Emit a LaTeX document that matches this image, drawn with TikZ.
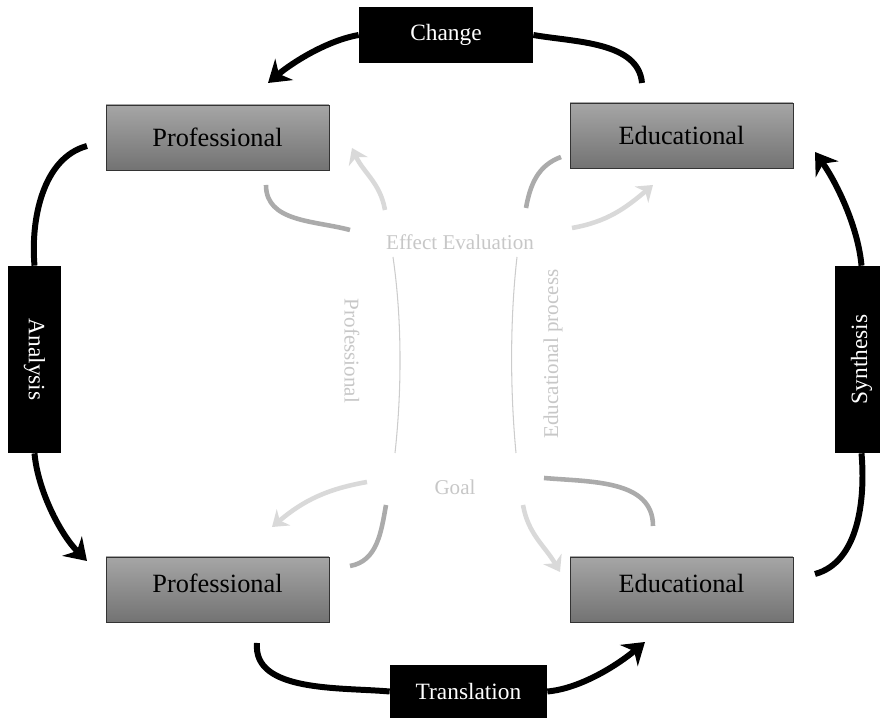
\documentclass[tikz,border=0pt]{standalone}
\usepackage{fontspec}
\setmainfont{Liberation Serif}
\usetikzlibrary{shapes.geometric, arrows.meta, positioning}

\begin{document}
\begin{tikzpicture}[x=0.02cm, y=0.02cm]
		\tikzstyle{Box} = [rectangle, minimum width=4.46cm, minimum height=1.3cm, text centered, draw=black!80, top color=black!35, bottom color=black!55, font=\fontsize{15}{18}\selectfont]
		\tikzstyle{Tag} = [rectangle, fill=black, text=white, inner sep=0pt, font=\fontsize{13.3}{16}\selectfont]
		\tikzstyle{Hint} = [text=black!22, inner sep=1pt, font=\fontsize{12}{14}\selectfont]
		\tikzstyle{arrow} = [line width=3.4pt, -{Stealth[length=0.42cm, width=0.55cm]}]
		\tikzstyle{band} = [line width=3.4pt]
		\tikzstyle{lightarrow} = [black!15, line width=2.6pt, -{Stealth[length=0.3cm, width=0.42cm]}]
		\tikzstyle{darkband} = [black!33, line width=2.6pt]
		\tikzstyle{guide} = [black!20, line width=0.6pt]
		
		\useasboundingbox (0,0) rectangle (880,719);
		
		% corner boxes
		\node (pro1) [Box] at (217.5,581.5) {Professional};
		\node (edu1) [Box] at (681.5,583.5) {Educational};
		\node (pro2) [Box] at (217.5,129.5) {\raisebox{0.12cm}[\height][\depth]{Professional}};
		\node (edu2) [Box] at (681.5,129.5) {\raisebox{0.12cm}[\height][\depth]{Educational}};
		
		% black tags on the outer cycle
		\node (change) [Tag, minimum width=3.48cm, minimum height=1.12cm] at (446,684) {Change};
		\node (transl) [Tag, minimum width=3.14cm, minimum height=1.06cm] at (468.5,27.5) {Translation};
		\node (anal) [Tag, rotate=-90, minimum width=3.74cm, minimum height=1.06cm] at (34.5,359.5) {Analysis};
		\node (synth) [Tag, rotate=90, minimum width=3.74cm, minimum height=1.06cm] at (861.5,359.5) {Synthesis};
		
		% grey texts in the middle
		\node (eff) [Hint] at (460,477) {Effect Evaluation};
		\node (goal) [Hint] at (455,232) {Goal};
		\node (prof) [Hint, rotate=-90] at (352,368) {Professional};
		\node (edup) [Hint, rotate=90] at (553,365) {Educational process};
		
		\coordinate (chgtail) at (642,636);
		\coordinate (chghead) at (268,636);
		\coordinate (trntail) at (257,76);
		\coordinate (trnhead) at (645,77);
		\coordinate (anltail) at (87,573);
		\coordinate (anlhead) at (87,158);
		\coordinate (syntail) at (815,145);
		\coordinate (synhead) at (815,567);
		
		\draw [band] (chgtail) to[out=95, in=-10, looseness=0.9] (change.east);
		\draw [arrow] (change.west) to[out=190, in=40, looseness=0.8] (chghead);
		\draw [band] (trntail) to[out=-95, in=175, looseness=0.9] (transl.west);
		\draw [arrow] (transl.east) to[out=5, in=-140, looseness=0.8] (trnhead);
		\draw [band] (anltail) to[out=195, in=95, looseness=0.9] (anal.west);
		\draw [arrow] (anal.east) to[out=-85, in=135, looseness=0.8] (anlhead);
		\draw [band] (syntail) to[out=15, in=-85, looseness=0.9] (synth.west);
		\draw [arrow] (synth.east) to[out=95, in=-55, looseness=0.8] (synhead);
		
		% inner grey arrows
		\coordinate (g1s) at (266,534);
		\coordinate (g1e) at (350,489);
		\coordinate (g2s) at (385,509);
		\coordinate (g2e) at (352,571);
		\coordinate (g3s) at (526,511);
		\coordinate (g3e) at (561,562);
		\coordinate (g4s) at (572,491);
		\coordinate (g4e) at (653,534);
		\coordinate (g5s) at (367,237);
		\coordinate (g5e) at (272,192);
		\coordinate (g6s) at (386,214);
		\coordinate (g6e) at (350,153);
		\coordinate (g7s) at (523,214);
		\coordinate (g7e) at (560,147);
		\coordinate (g8s) at (544,241);
		\coordinate (g8e) at (653,193);
		
		\draw [darkband] (g1s) to[out=-90, in=165] (g1e);
		\draw [lightarrow] (g2s) to[out=100, in=-65] (g2e);
		\draw [darkband] (g3s) to[out=80, in=200] (g3e);
		\draw [lightarrow] (g4s) to[out=10, in=-140] (g4e);
		\draw [lightarrow] (g5s) to[out=190, in=40] (g5e);
		\draw [darkband] (g6s) to[out=-100, in=10] (g6e);
		\draw [lightarrow] (g7s) to[out=-80, in=120] (g7e);
		\draw [darkband] (g8s) to[out=-5, in=90] (g8e);
		
		% thin brackets
		\coordinate (l1s) at (393,462);
		\coordinate (l1e) at (395,266);
		\coordinate (l2s) at (517,462);
		\coordinate (l2e) at (516,266);
		\draw [guide] (l1s) .. controls (402,400) and (402,330) .. (l1e);
		\draw [guide] (l2s) .. controls (510,400) and (510,330) .. (l2e);
\end{tikzpicture}
\end{document}
